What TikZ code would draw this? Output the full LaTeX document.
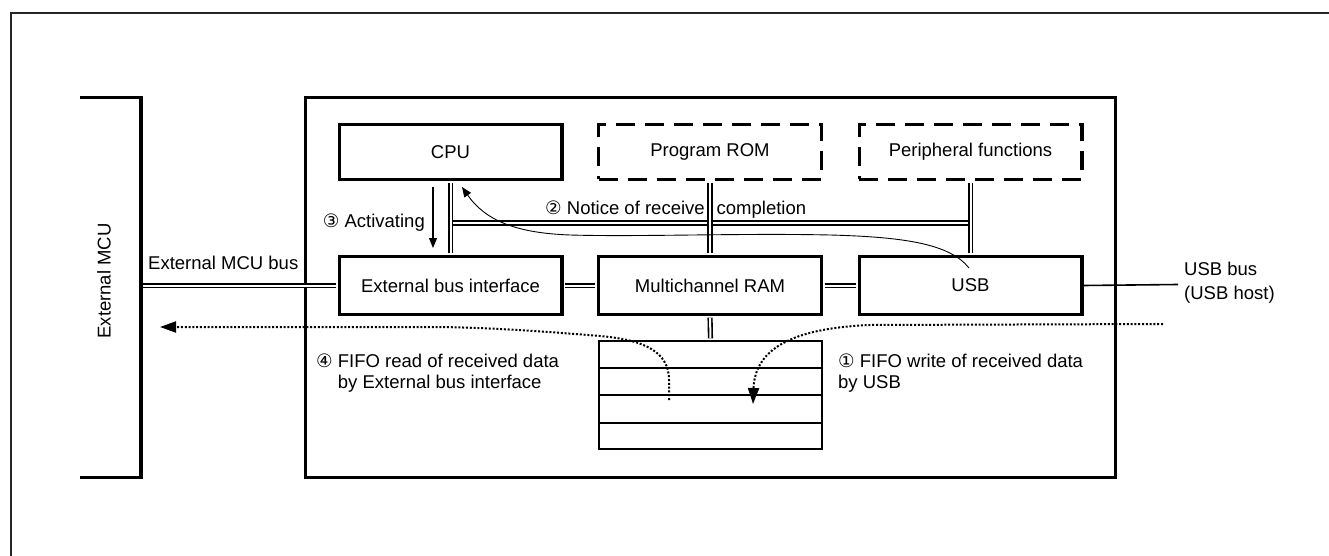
\documentclass[tikz,border=0pt]{standalone}
\usepackage{fontspec}
\setmainfont{Liberation Sans}
\newfontfamily\symf{DejaVu Sans}
\usetikzlibrary{arrows.meta,calc}
\begin{document}
\begin{tikzpicture}[x=1pt,y=-1pt,
  every node/.style={font=\fontsize{18.5pt}{21pt}\selectfont},
  frame/.style={line width=2.4pt, black!85},
  heavy/.style={line width=3.4pt},
  box/.style={draw, line width=3.4pt, minimum width=222.6pt, inner sep=0pt},
  dbox/.style={box, dash pattern=on 19pt off 10pt},
  bus/.style={double, double distance=2pt, line width=1.6pt, shorten <=1.7pt, shorten >=1.7pt},
  lbl/.style={inner sep=0pt, align=left},
  thinarrow/.style={line width=1.1pt, -{Triangle[length=10pt,width=8pt]}},
  dotarrow/.style={line width=2pt, dash pattern=on 2pt off 1.8pt, -{Triangle[length=16pt,width=11pt]}}
]
\useasboundingbox (0,0) rectangle (1329,556);
% outer frame (cut by the page)
\draw[frame] (1329,13) -- (11,13) -- (11,556);

% chip outline
\node[draw, line width=3.4pt, minimum width=809.6pt, minimum height=379.6pt, inner sep=0pt] (chip) at (710.5,287.5) {};

% blocks
\node[box, minimum height=54.6pt] (cpu) at (450.5,152) {CPU};
\node[dbox, minimum height=54.6pt] (rom) at (710,152) {Program ROM};
\node[dbox, minimum height=54.6pt] (periph) at (970.5,152) {Peripheral functions};
\node[box, minimum height=57.6pt] (extbus) at (450.5,285.5) {External bus interface};
\node[box, minimum height=57.6pt] (ram) at (710,285.5) {Multichannel RAM};
\node[box, minimum height=57.6pt] (usb) at (970.5,285.5) {USB};
\node[draw, line width=2pt, minimum width=223pt, minimum height=108pt, inner sep=0pt] (fifo) at (710.5,395) {};
\foreach \f in {0.25,0.5,0.75}
  \draw[line width=2pt] ($(fifo.north west)!\f!(fifo.south west)$) -- ($(fifo.north east)!\f!(fifo.south east)$);

% internal buses
\coordinate (hb) at (450.5,223);
\draw[bus] (hb) -- (hb -| periph.south);
\draw[bus] (cpu.south) -- (extbus.north);
\draw[bus] (rom.south) -- (ram.north);
\draw[bus] (periph.south) -- (usb.north);
\draw[bus] (extbus.east) -- (ram.west);
\draw[bus] (ram.east) -- (usb.west);
\draw[bus] (ram.south) -- (fifo.north);

% external MCU bracket and bus
\coordinate (mcu) at (141,285.5);
\draw[bus] (mcu) -- (extbus.west);
\coordinate (brT) at (80,97.5);
\coordinate (brB) at (80,477.5);
\draw[heavy] (brT) -- (141,97.5) -- (141,477.5) -- (brB);
\node[rotate=90] (mcuname) at (104,281) {External MCU};
\node[lbl, anchor=base west] (mcubus) at (148,269.6) {External MCU bus};

% USB bus
\coordinate (usbend) at (1178,284.5);
\draw[line width=1.6pt] (usb.east) -- (usbend);
\node[lbl, anchor=west] (usbbus) at (1184,282.8) {USB bus\\[3pt](USB host)};

% step 3: activating
\coordinate (a3s) at (433,187);
\coordinate (a3e) at (433,248);
\draw[thinarrow] (a3s) -- (a3e);
\node[lbl, anchor=base east] (l3) at (425,227.5) {{\symf ③} Activating};

% step 2: notice of receive completion
\node[lbl, anchor=base west] (l2) at (545,214) {{\symf ②} Notice of receive\hspace{12pt}completion};
\coordinate (n2s) at (969,268);
\coordinate (n2e) at (462,187);
\draw[line width=0.9pt, -{Triangle[length=10pt,width=8pt]}] (n2s) .. controls (950,244) and (905,237) .. (830,235) .. controls (740,233) and (640,237) .. (570,235) .. controls (515,233) and (485,220) .. (n2e);

% step 1: FIFO write by USB
\coordinate (d1s) at (1163,324);
\coordinate (d1e) at (753,404);
\draw[dotarrow] (d1s) -- (870,325) .. controls (800,328) and (755,345) .. (d1e);
\node[lbl, anchor=west] (l1) at (838,372.7) {{\symf ①} FIFO write of received data\\by USB};

% step 4: FIFO read by external bus interface
\coordinate (d4s) at (669,400);
\coordinate (d4e) at (160,327);
\draw[dotarrow] (d4s) -- (669,380) .. controls (669,352) and (645,340) .. (600,336) .. controls (540,331) and (480,327) .. (430,327) -- (d4e);
\node[lbl, anchor=west] (l4) at (316,372.7) {{\symf ④} FIFO read of received data\\\phantom{{\symf ④} }by External bus interface};
\end{tikzpicture}
\end{document}
